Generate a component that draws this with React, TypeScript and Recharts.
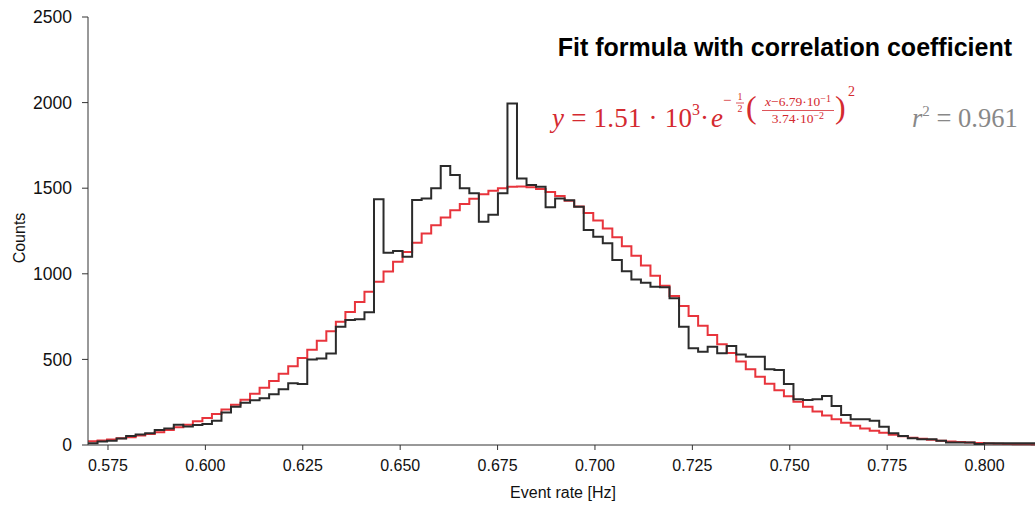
import React from 'react';
import { LineChart, Line, XAxis, YAxis } from 'recharts';

// Histogram binning (bin left edge of first bin and bin width, in Hz)
const BIN_START = 0.56987;
const BIN_WIDTH = 0.002447;
const X_DOMAIN: [number, number] = [0.56987, 0.81295];

// Measured counts per bin (black histogram)
const counts = [
  10, 20, 25, 38, 52, 62, 68, 88, 97, 118,
  108, 117, 123, 142, 190, 224, 247, 262, 273, 296,
  325, 360, 356, 500, 505, 535, 691, 730, 734, 775,
  1435, 1123, 1133, 1100, 1431, 1440, 1499, 1629, 1577, 1499,
  1470, 1304, 1345, 1470, 1995, 1557, 1518, 1508, 1388, 1440,
  1430, 1392, 1256, 1217, 1178, 1080, 1015, 966, 948, 925,
  921, 857, 691, 565, 545, 574, 536, 578, 528, 516,
  516, 442, 438, 356, 267, 263, 267, 286, 228, 175,
  150, 150, 142, 107, 68, 53, 39, 33, 33, 25,
  14, 14, 14, 6, 10, 10, 10, 10, 10, 10,
];

// Fitted gaussian per bin (red step curve)
const fitCounts = [
  22, 27, 32, 39, 46, 55, 64, 75, 88, 103,
  119, 138, 158, 181, 207, 235, 265, 299, 335, 374,
  416, 460, 508, 557, 609, 664, 720, 777, 836, 895,
  954, 1013, 1071, 1128, 1182, 1235, 1284, 1329, 1371, 1407,
  1439, 1465, 1485, 1500, 1508, 1510, 1506, 1495, 1478, 1455,
  1427, 1393, 1355, 1311, 1265, 1214, 1161, 1105, 1048, 989,
  930, 871, 812, 754, 697, 642, 588, 537, 488, 442,
  399, 358, 320, 285, 253, 223, 196, 172, 150, 130,
  112, 97, 83, 71, 60, 51, 43, 36, 30, 25,
  21, 17, 14, 12, 9, 8, 6, 5, 4, 3,
];

const xTicks = [0.575, 0.6, 0.625, 0.65, 0.675, 0.7, 0.725, 0.75, 0.775, 0.8];
const yTicks = [0, 500, 1000, 1500, 2000, 2500];

const data = Array.from({ length: counts.length + 1 }, (_, i) => {
  const k = Math.min(i, counts.length - 1);
  return { x: BIN_START + i * BIN_WIDTH, counts: counts[k], fit: fitCounts[k] };
});

const SANS = '"Liberation Sans", Arial, Helvetica, sans-serif';
const SERIF = '"Liberation Serif", "Times New Roman", serif';
const RED = '#d42a30';
const AXIS = '#333';

export default function App() {
  return (
    <div style={{ position: 'absolute', left: 0, top: 0, width: 1035, height: 507, background: '#fff', overflow: 'hidden' }}>
      <LineChart
        width={1035}
        height={507}
        data={data}
        margin={{ top: 17, right: 0, left: 0, bottom: 0 }}
      >
        <XAxis
          dataKey="x"
          type="number"
          domain={X_DOMAIN}
          allowDataOverflow
          ticks={xTicks}
          tickFormatter={(v: number) => v.toFixed(3)}
          height={62}
          tickSize={5}
          tickMargin={10}
          stroke={AXIS}
          tick={{ fill: '#111', fontSize: 16, fontFamily: SANS }}
        />
        <XAxis
          xAxisId="top"
          orientation="top"
          dataKey="x"
          type="number"
          domain={X_DOMAIN}
          allowDataOverflow
          ticks={xTicks}
          tick={false}
          tickSize={3}
          height={0}
          stroke={AXIS}
        />
        <YAxis
          type="number"
          domain={[0, 2500]}
          ticks={yTicks}
          width={88}
          tickSize={6}
          tickMargin={10}
          stroke={AXIS}
          tick={{ fill: '#111', fontSize: 17.5, fontFamily: SANS }}
        />
        <Line
          type="stepAfter"
          dataKey="fit"
          stroke="#e8343c"
          strokeWidth={2}
          dot={false}
          isAnimationActive={false}
        />
        <Line
          type="stepAfter"
          dataKey="counts"
          stroke="#2b2b2b"
          strokeWidth={2}
          dot={false}
          isAnimationActive={false}
        />
      </LineChart>
      <svg
        width={1035}
        height={507}
        style={{ position: 'absolute', left: 0, top: 0, pointerEvents: 'none' }}
      >
        <text x={1012} y={56} textAnchor="end" fontFamily={SANS} fontWeight="bold" fontSize={25} fill="#000">
          Fit formula with correlation coefficient
        </text>
        {/* fit formula */}
        <text x={552} y={127} fontFamily={SERIF} fontSize={27} fill={RED} textLength={140} lengthAdjust="spacing">
          <tspan fontStyle="italic">y</tspan> = 1.51 · 10
        </text>
        <text x={692} y={115} fontFamily={SERIF} fontSize={16} fill={RED}>3</text>
        <text x={700} y={127} fontFamily={SERIF} fontSize={27} fill={RED}>·</text>
        <text x={711} y={127} fontFamily={SERIF} fontSize={27} fill={RED} fontStyle="italic">e</text>
        <text x={723} y={105} fontFamily={SERIF} fontSize={15} fill={RED}>−</text>
        <text x={740} y={100} fontFamily={SERIF} fontSize={10} fill={RED} textAnchor="middle">1</text>
        <line x1={736} x2={744} y1={103} y2={103} stroke={RED} strokeWidth={0.8} />
        <text x={740} y={112} fontFamily={SERIF} fontSize={10} fill={RED} textAnchor="middle">2</text>
        <text x={746} y={118} fontFamily={SERIF} fontSize={32} fill={RED}>(</text>
        <text x={798} y={106} fontFamily={SERIF} fontSize={13.5} fill={RED} textAnchor="middle">
          <tspan fontStyle="italic">x</tspan>−6.79·10<tspan dy={-4} fontSize={10}>−1</tspan>
        </text>
        <line x1={762} x2={834} y1={110.5} y2={110.5} stroke={RED} strokeWidth={0.8} />
        <text x={798} y={123} fontFamily={SERIF} fontSize={13.5} fill={RED} textAnchor="middle">
          3.74·10<tspan dy={-4} fontSize={10}>−2</tspan>
        </text>
        <text x={835} y={118} fontFamily={SERIF} fontSize={32} fill={RED}>)</text>
        <text x={848} y={96} fontFamily={SERIF} fontSize={14} fill={RED}>2</text>
        {/* r squared */}
        <text x={912} y={127} fontFamily={SERIF} fontSize={26.5} fill="#888">
          <tspan fontStyle="italic">r</tspan>
          <tspan dy={-11} fontSize={15}>2</tspan>
          <tspan dy={11}> = 0.961</tspan>
        </text>
        {/* axis titles */}
        <text x={563} y={498} textAnchor="middle" fontFamily={SANS} fontSize={16} fill="#111">
          Event rate [Hz]
        </text>
        <text
          x={19}
          y={238}
          textAnchor="middle"
          dominantBaseline="central"
          transform="rotate(-90 19 238)"
          fontFamily={SANS}
          fontSize={16}
          fill="#111"
        >
          Counts
        </text>
      </svg>
    </div>
  );
}
